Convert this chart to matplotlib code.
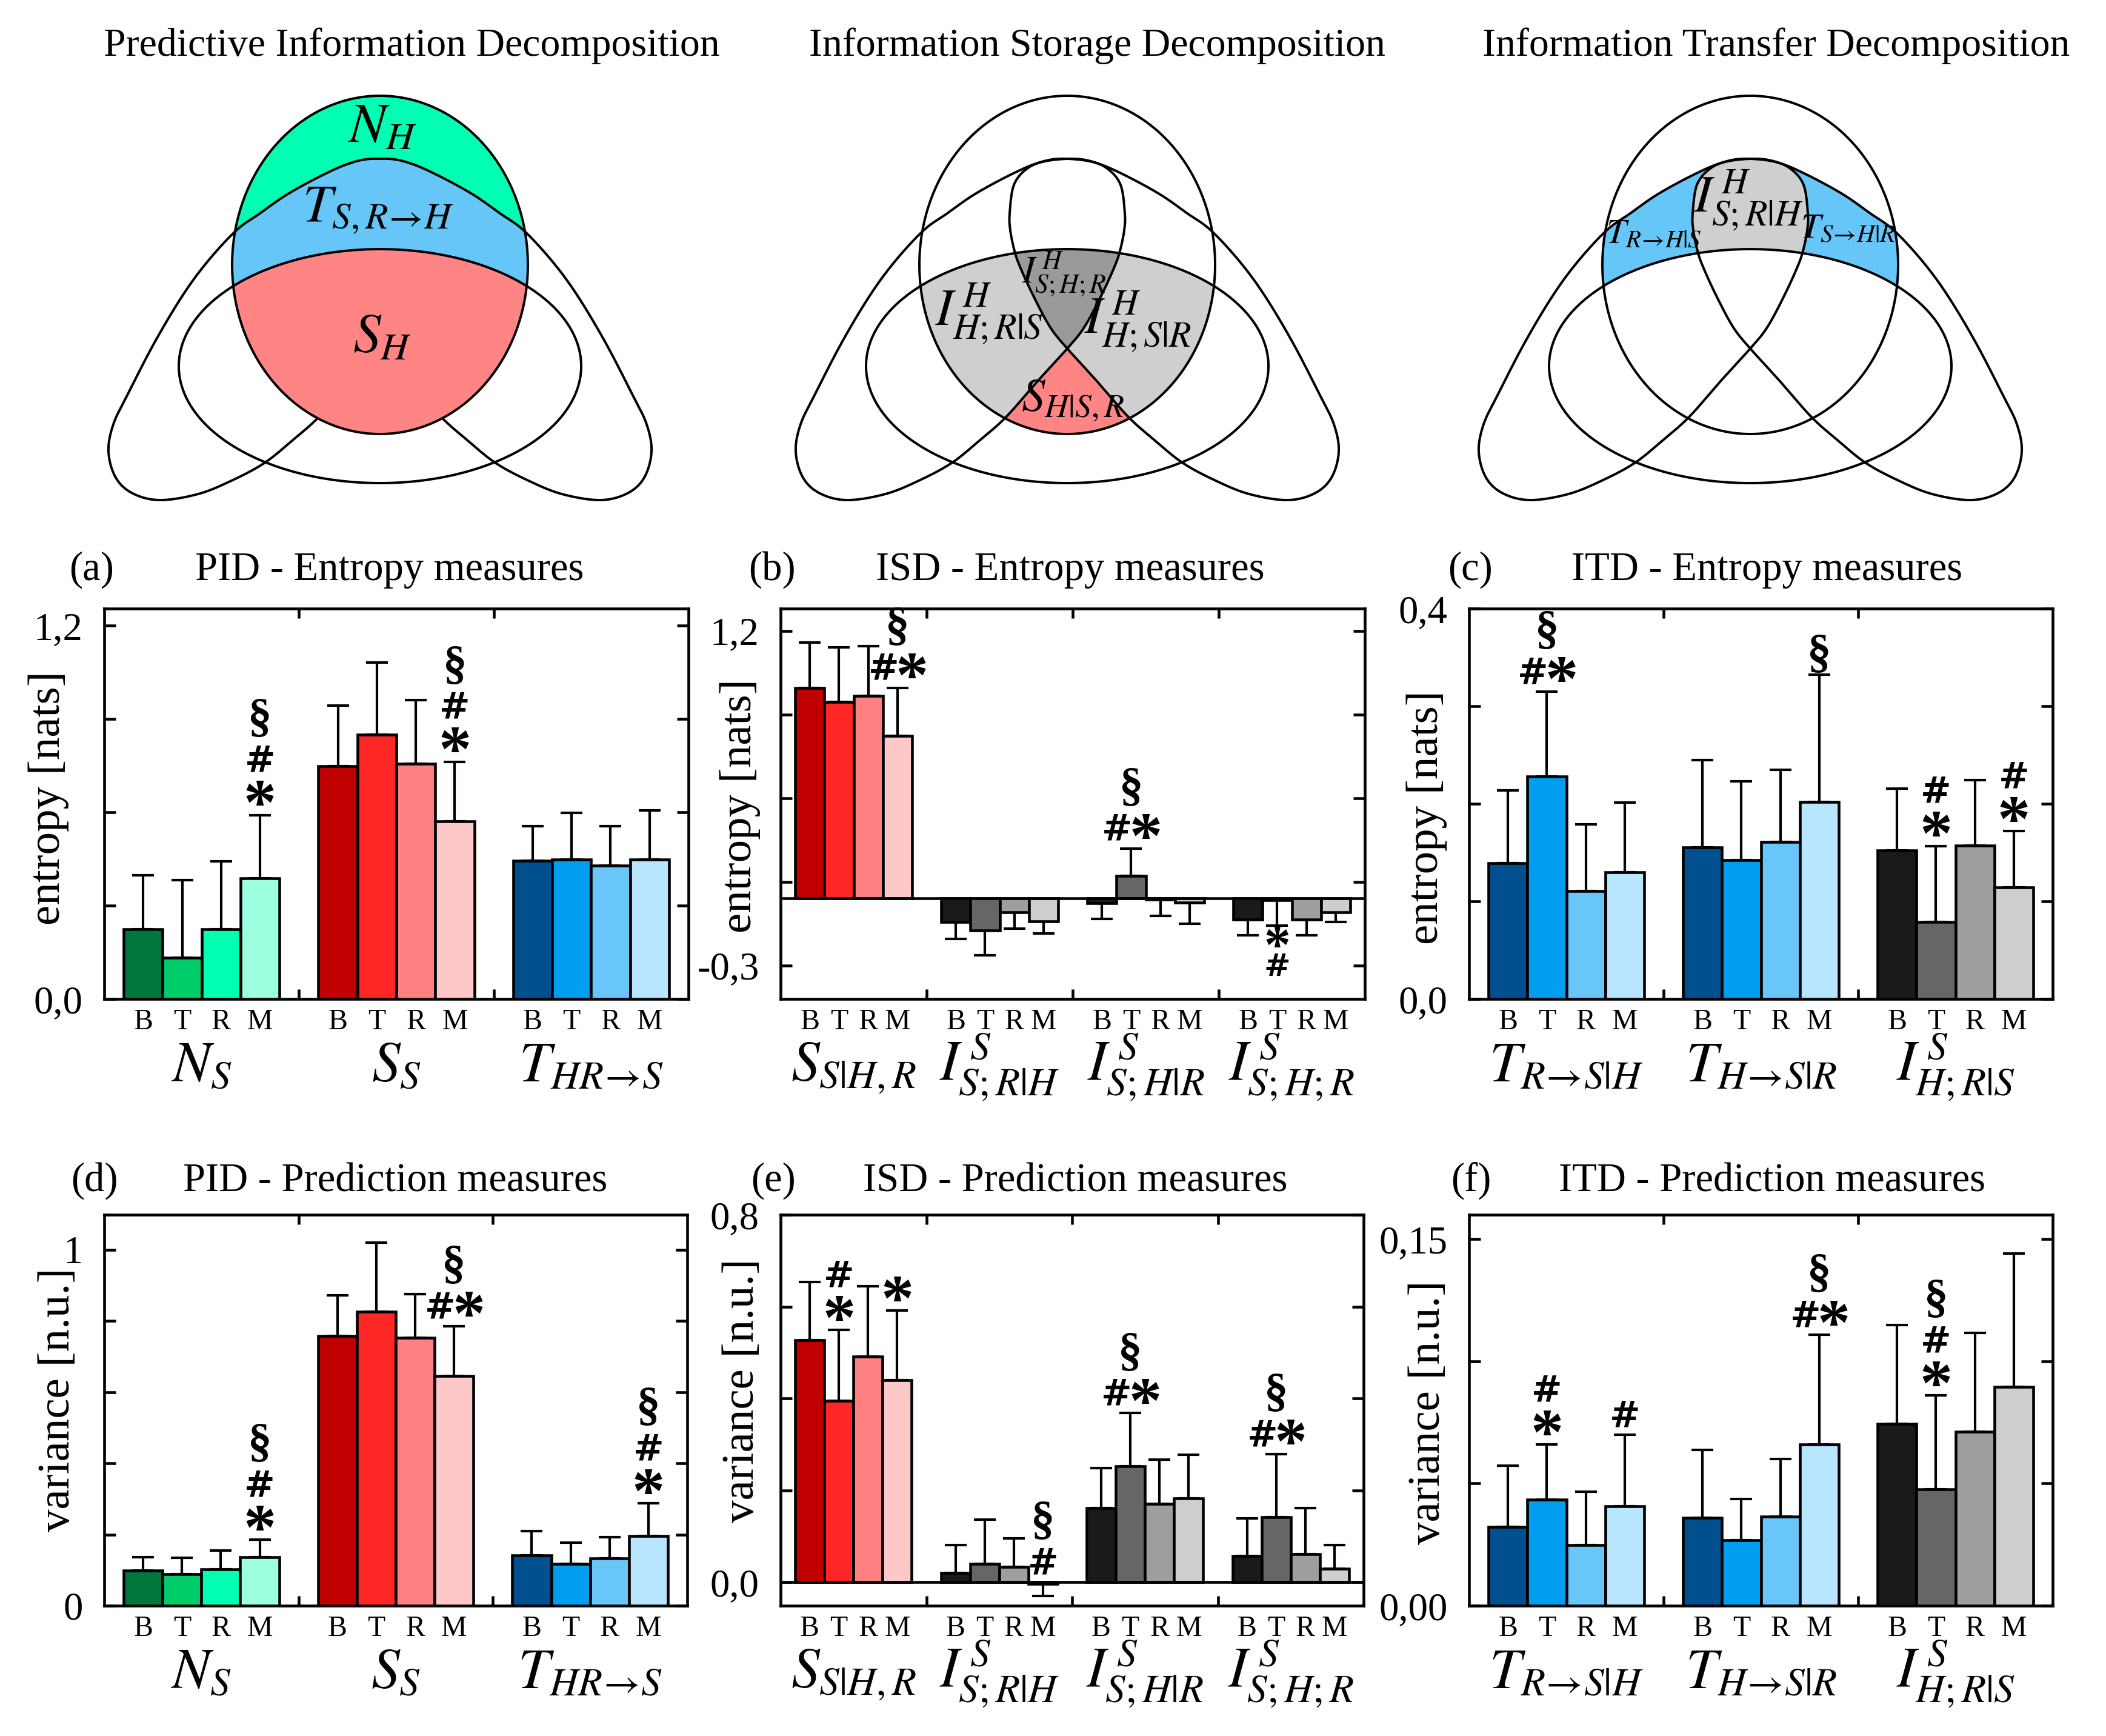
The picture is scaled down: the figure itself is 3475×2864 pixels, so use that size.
import numpy as np
import matplotlib
matplotlib.use("Agg")
import matplotlib.pyplot as plt
from matplotlib.path import Path
from matplotlib.colors import to_rgba

plt.rcParams['font.family'] = ['Liberation Serif', 'DejaVu Serif']
plt.rcParams['mathtext.fontset'] = 'stix'

# ------------------------------------------------------------------ data
bar_keys = ['B', 'T', 'R', 'M']

pid_groups = [r'$N_S$', r'$S_S$', r'$T_{HR\!\rightarrow\!S}$']
isd_groups = [r'$S_{S|H,R}$', r'$I^{\,S}_{S;R|H}$', r'$I^{\,S}_{S;H|R}$', r'$I^{\,S}_{S;H;R}$']
itd_groups = [r'$T_{R\!\rightarrow\!S|H}$', r'$T_{H\!\rightarrow\!S|R}$', r'$I^{\,S}_{H;R|S}$']

# (a) PID entropy
a_vals = [[0.224, 0.133, 0.224, 0.388], [0.749, 0.850, 0.757, 0.571], [0.445, 0.449, 0.428, 0.449]]
a_errs = [[0.174, 0.249, 0.218, 0.203], [0.194, 0.232, 0.203, 0.191], [0.111, 0.149, 0.127, 0.158]]
# (b) ISD entropy
b_vals = [[0.945, 0.881, 0.909, 0.728], [-0.104, -0.142, -0.061, -0.101],
          [-0.021, 0.101, -0.004, -0.017], [-0.095, -0.006, -0.095, -0.061]]
b_errs = [[0.203, 0.246, 0.222, 0.217], [0.078, 0.113, 0.074, 0.055],
          [0.071, 0.124, 0.074, 0.096], [0.070, 0.115, 0.070, 0.043]]
# (c) ITD entropy
c_vals = [[0.139, 0.228, 0.1105, 0.130], [0.155, 0.142, 0.161, 0.202], [0.152, 0.0787, 0.157, 0.1145]]
c_errs = [[0.0745, 0.087, 0.0685, 0.071], [0.090, 0.081, 0.074, 0.130], [0.0635, 0.078, 0.0675, 0.0575]]
# (d) PID prediction
d_vals = [[0.098, 0.088, 0.102, 0.137], [0.757, 0.825, 0.752, 0.645], [0.141, 0.118, 0.133, 0.196]]
d_errs = [[0.039, 0.047, 0.053, 0.048], [0.115, 0.194, 0.123, 0.140], [0.068, 0.059, 0.059, 0.091]]
# (e) ISD prediction
e_vals = [[0.527, 0.395, 0.491, 0.440], [0.020, 0.040, 0.034, -0.003],
          [0.161, 0.252, 0.171, 0.182], [0.057, 0.141, 0.0615, 0.030]]
e_errs = [[0.127, 0.154, 0.153, 0.151], [0.061, 0.097, 0.062, 0.027],
          [0.087, 0.116, 0.096, 0.096], [0.082, 0.138, 0.0995, 0.051]]
# (f) ITD prediction
f_vals = [[0.0322, 0.0434, 0.0248, 0.0408], [0.0360, 0.0268, 0.0365, 0.0659], [0.0743, 0.0477, 0.0711, 0.0896]]
f_errs = [[0.0252, 0.0225, 0.0218, 0.0291], [0.0278, 0.0169, 0.0236, 0.0449], [0.0405, 0.0383, 0.0406, 0.0546]]

# significance marks: (group, bar, rows bottom->top (or top->bottom if 'down'), direction)
a_marks = [(0, 3, ['*', '#', '§'], 'up'), (1, 3, ['*', '#', '§'], 'up')]
b_marks = [(0, 3, ['#*', '§'], 'up'), (2, 1, ['#*', '§'], 'up'), (3, 1, ['*', '#'], 'down')]
c_marks = [(0, 1, ['#*', '§'], 'up'), (1, 3, ['§'], 'up'), (2, 1, ['*', '#'], 'up'), (2, 3, ['*', '#'], 'up')]
d_marks = [(0, 3, ['*', '#', '§'], 'up'), (1, 3, ['#*', '§'], 'up'), (2, 3, ['*', '#', '§'], 'up')]
e_marks = [(0, 1, ['*', '#'], 'up'), (0, 3, ['*'], 'up'), (1, 3, ['#', '§'], 'up'),
           (2, 1, ['#*', '§'], 'up'), (3, 1, ['#*', '§'], 'up')]
f_marks = [(0, 1, ['*', '#'], 'up'), (0, 3, ['#'], 'up'), (1, 3, ['#*', '§'], 'up'), (2, 1, ['*', '#', '§'], 'up')]

GREENS = ['#00773D', '#00CC6A', '#00FFB0', '#9CFFE0']
REDS = ['#C00000', '#FF2626', '#FF8080', '#FFC8C8']
BLUES = ['#00508F', '#009EF0', '#68C6F8', '#B8E6FF']
GRAYS = ['#1A1A1A', '#666666', '#9E9E9E', '#CECECE']

# ------------------------------------------------------------------ figure
W, H = 3475, 2864
DPI = 300
fig = plt.figure(figsize=(W / DPI, H / DPI), dpi=DPI)


def fx(px):
    return px / W


def fy(py):
    return 1 - py / H


# ------------------------------------------------------------------ Venn-like diagrams
dax = fig.add_axes([0, 0, 1, 1], zorder=0)
dax.axis('off')

C_GREEN = '#00FFB2'
C_BLUE = '#66C6F8'
C_RED = '#FF8585'
C_LGRAY = '#CFCFCF'
C_DGRAY = '#9A9A9A'

A_rel = [(0, 262), (-45, 268), (-91, 287), (-152, 320), (-198, 352), (-237, 380), (-285, 432),
         (-326, 488), (-372, 565), (-416, 650), (-440, 700), (-448, 745), (-436, 788), (-408, 814),
         (-363, 825), (-300, 815), (-245, 793), (-191, 764), (-145, 727), (-101, 688), (-50, 630),
         (0, 575), (28, 540), (56, 488), (78, 440), (87, 414), (94, 380), (95, 352), (88, 305),
         (66, 278), (35, 265)]


def ellipse_pts(cx, cy, a, b, n=900):
    t = np.linspace(0, 2 * np.pi, n)
    return np.column_stack([cx + a * np.cos(t), cy + b * np.sin(t)])


def closed_spline(pts, n=30):
    P = np.asarray(pts, float)
    N = len(P)
    out = []
    t = np.linspace(0, 1, n, endpoint=False)[:, None]
    for i in range(N):
        p0, p1, p2, p3 = P[(i - 1) % N], P[i], P[(i + 1) % N], P[(i + 2) % N]
        out.append(0.5 * (2 * p1 + (-p0 + p2) * t + (2 * p0 - 5 * p1 + 4 * p2 - p3) * t ** 2
                          + (-p0 + 3 * p1 - 3 * p2 + p3) * t ** 3))
    out = np.vstack(out)
    return np.vstack([out, out[:1]])


def diagram(cx, kind):
    Hp = ellipse_pts(cx, 437, 244, 279)
    Ip = ellipse_pts(cx, 604, 332, 193)
    Ap = closed_spline([(cx + x, y) for x, y in A_rel])
    Bp = closed_spline([(cx - x, y) for x, y in A_rel])
    pH, pI, pA, pB = Path(Hp), Path(Ip), Path(Ap), Path(Bp)
    x0, x1, y0, y1 = int(cx - 480), int(cx + 480), 140, 850
    xs = np.arange(x0, x1) + 0.5
    ys = np.arange(y0, y1) + 0.5
    X, Y = np.meshgrid(xs, ys)
    P = np.column_stack([X.ravel(), Y.ravel()])
    inH = pH.contains_points(P).reshape(X.shape)
    inI = pI.contains_points(P).reshape(X.shape)
    inA = pA.contains_points(P).reshape(X.shape)
    inB = pB.contains_points(P).reshape(X.shape)
    img = np.zeros(X.shape + (4,))
    if kind == 'PID':
        img[inH] = to_rgba(C_GREEN)
        img[inH & (inA | inB) & ~inI] = to_rgba(C_BLUE)
        img[inH & inI] = to_rgba(C_RED)
    elif kind == 'ISD':
        img[inH & inI & (inA ^ inB)] = to_rgba(C_LGRAY)
        img[inH & inI & inA & inB] = to_rgba(C_DGRAY)
        img[inH & inI & ~inA & ~inB] = to_rgba(C_RED)
    else:
        img[inH & ~inI & (inA ^ inB)] = to_rgba(C_BLUE)
        img[inH & ~inI & inA & inB] = to_rgba(C_LGRAY)
    dax.imshow(img, extent=(x0, x1, y1, y0), interpolation='nearest', zorder=1, aspect='auto')

    def draw(pts, hide=None):
        pts = pts.astype(float).copy()
        if hide is not None:
            pts[hide(pts)] = np.nan
        dax.plot(pts[:, 0], pts[:, 1], color='k', lw=0.95, zorder=2)

    if kind == 'PID':
        draw(Ap, lambda q: pH.contains_points(q) & (pB.contains_points(q) | pI.contains_points(q)))
        draw(Bp, lambda q: pH.contains_points(q) & (pA.contains_points(q) | pI.contains_points(q)))
    else:
        draw(Ap)
        draw(Bp)
    draw(Ip)
    draw(Hp)


centers = [627, 1761, 2888]
diagram(centers[0], 'PID')
diagram(centers[1], 'ISD')
diagram(centers[2], 'ITD')
dax.set_xlim(0, W)
dax.set_ylim(H, 0)

diag_titles = ['Predictive Information Decomposition', 'Information Storage Decomposition',
               'Information Transfer Decomposition']
diag_title_x = [679, 1810, 2931]
for t, x in zip(diag_titles, diag_title_x):
    fig.text(fx(x), fy(92), t, ha='center', va='baseline', fontsize=15.8)

diag_labels = [
    (631, 211, r'$N_H$', 22), (624, 347, r'$T_{S,R\!\rightarrow\!H}$', 21), (631, 558, r'$S_H$', 22),
    (1756, 452, r'$I^{\,H}_{S;H;R}$', 15), (1632, 518, r'$I^{\,H}_{H;R|S}$', 20.5),
    (1877, 531, r'$I^{\,H}_{H;S|R}$', 20.5), (1770, 661, r'$S_{H|S,R}$', 18.5),
    (2885, 331, r'$I^{\,H}_{S;R|H}$', 20.5), (2729, 388, r'$T_{R\!\rightarrow\!H|S}$', 14),
    (3049, 379, r'$T_{S\!\rightarrow\!H|R}$', 14),
]
for x, y, s, fs in diag_labels:
    fig.text(fx(x), fy(y), s, ha='center', va='center', fontsize=fs, zorder=5)

# ------------------------------------------------------------------ bar panels
GLYPH = {'*': dict(family='Liberation Serif', weight='bold', size=26, c=0.47, down=21),
         '#': dict(family='DejaVu Sans', weight='bold', size=14.5, c=0.36, down=12.5),
         '§': dict(family='Liberation Serif', weight='bold', size=19, c=0.28, down=17)}


def put_marks(ax, x, anchor, rows, down):
    sgn = -1 if down else 1
    d = 8.5 if not down else 4.5
    for k, row in enumerate(rows):
        if k > 0:
            if down:
                d += 11.0
            else:
                d += 16.0 if '§' in row else 14.0
        n = len(row)
        for j, g in enumerate(row):
            dx = 0.0 if n == 1 else (-5.5 if j == 0 else 5.8)
            s = GLYPH[g]
            size = s['down'] if down else s['size']
            dy = sgn * d - s['c'] * size
            ax.annotate(g, xy=(x, anchor), xytext=(dx, dy), textcoords='offset points',
                        ha='center', va='baseline', fontfamily=s['family'],
                        fontweight=s['weight'], fontsize=size, annotation_clip=False, zorder=6)


def panel(box, groups, vals, errs, palettes, ylim, yticks, ylabels, ylabel, ylab_xy,
          letter, letter_x, title, title_x, base_y, marks, zero_line):
    l, t, r, b = box
    ax = fig.add_axes([fx(l), fy(b), fx(r) - fx(l), (b - t) / H], zorder=3)
    ng = len(groups)
    for g in range(ng):
        xs = [g + 0.2 + 0.2 * i for i in range(4)]
        v = np.array(vals[g])
        e = np.array(errs[g])
        lo = np.where(v < 0, e, 0)
        hi = np.where(v >= 0, e, 0)
        ax.errorbar(xs, v, yerr=[lo, hi], fmt='none', ecolor='k', elinewidth=1.0,
                    capsize=4.3, capthick=1.0, zorder=2)
        ax.bar(xs, v, width=0.2, color=palettes[g], edgecolor='k', linewidth=1.1, zorder=3)
        for i, k in enumerate(bar_keys):
            ax.annotate(k, xy=(xs[i], 0), xycoords=ax.get_xaxis_transform(), xytext=(0, -9.2),
                        textcoords='offset points', ha='center', va='center', fontsize=11.5)
        ax.annotate(groups[g], xy=(g + 0.5, 0), xycoords=ax.get_xaxis_transform(),
                    xytext=(0, -32.5), textcoords='offset points', ha='center', va='baseline',
                    fontsize=22.5)
    for (g, i, rows, dirn) in marks:
        v = vals[g][i]
        e = errs[g][i]
        end = v + (e if v >= 0 else -e)
        x = g + 0.2 + 0.2 * i
        if dirn == 'up':
            put_marks(ax, x, max(0.0, v, end), rows, False)
        else:
            put_marks(ax, x, min(0.0, v, end), rows, True)
    if zero_line:
        ax.axhline(0, color='k', lw=1.1, zorder=4)
    ax.set_xlim(0, ng)
    ax.set_ylim(*ylim)
    ax.set_yticks(yticks)
    labs = [''] * len(yticks)
    labs[0], labs[-1] = ylabels
    ax.set_yticklabels(labs)
    ax.set_xticks(list(range(1, ng)))
    ax.set_xticklabels([])
    ax.tick_params(axis='y', which='both', direction='in', left=True, right=True, length=4.6,
                   width=1.1, labelsize=15.5, pad=8.5)
    ax.tick_params(axis='x', which='both', direction='in', top=True, bottom=True, length=3.8,
                   width=1.1)
    for sp in ax.spines.values():
        sp.set_linewidth(1.1)
    fig.text(fx(ylab_xy[0]), fy(ylab_xy[1]), ylabel, rotation=90, ha='center', va='center',
             fontsize=18)
    fig.text(fx(letter_x), fy(base_y), letter, ha='center', va='baseline', fontsize=16)
    fig.text(fx(title_x), fy(base_y), title, ha='center', va='baseline', fontsize=16)
    return ax


TOP = (1004, 1648)
BOT = (2004, 2649)

panel((172, TOP[0], 1136, TOP[1]), pid_groups, a_vals, a_errs, [GREENS, REDS, BLUES],
      (0, 1.255), [0, 0.3, 0.6, 0.9, 1.2], ('0,0', '1,2'), 'entropy [nats]', (80, 1317),
      '(a)', 151, 'PID - Entropy measures', 643, 957, a_marks, False)
panel((1288, TOP[0], 2252, TOP[1]), isd_groups, b_vals, b_errs, [REDS, GRAYS, GRAYS, GRAYS],
      (-0.45, 1.30), list(np.linspace(-0.3, 1.2, 5)), ('-0,3', '1,2'), 'entropy [nats]', (1221, 1330),
      '(b)', 1274, 'ISD - Entropy measures', 1766, 957, b_marks, True)
panel((2424, TOP[0], 3387, TOP[1]), itd_groups, c_vals, c_errs, [BLUES, BLUES, GRAYS],
      (0, 0.4), [0, 0.1, 0.2, 0.3, 0.4], ('0,0', '0,4'), 'entropy [nats]', (2354, 1349),
      '(c)', 2426, 'ITD - Entropy measures', 2916, 957, c_marks, False)
panel((172, BOT[0], 1134, BOT[1]), pid_groups, d_vals, d_errs, [GREENS, REDS, BLUES],
      (0, 1.098), [0, 0.2, 0.4, 0.6, 0.8, 1.0], ('0', '1'), 'variance [n.u.]', (96, 2309),
      '(d)', 156, 'PID - Prediction measures', 652, 1965, d_marks, False)
panel((1288, BOT[0], 2250, BOT[1]), isd_groups, e_vals, e_errs, [REDS, GRAYS, GRAYS, GRAYS],
      (-0.051, 0.8), [0, 0.2, 0.4, 0.6, 0.8], ('0,0', '0,8'), 'variance [n.u.]', (1225, 2294),
      '(e)', 1276, 'ISD - Prediction measures', 1774, 1965, e_marks, True)
panel((2424, BOT[0], 3387, BOT[1]), itd_groups, f_vals, f_errs, [BLUES, BLUES, GRAYS],
      (0, 0.16), [0, 0.05, 0.10, 0.15], ('0,00', '0,15'), 'variance [n.u.]', (2357, 2330),
      '(f)', 2427, 'ITD - Prediction measures', 2924, 1965, f_marks, False)

fig.savefig('out.png', dpi=DPI, facecolor='white')
